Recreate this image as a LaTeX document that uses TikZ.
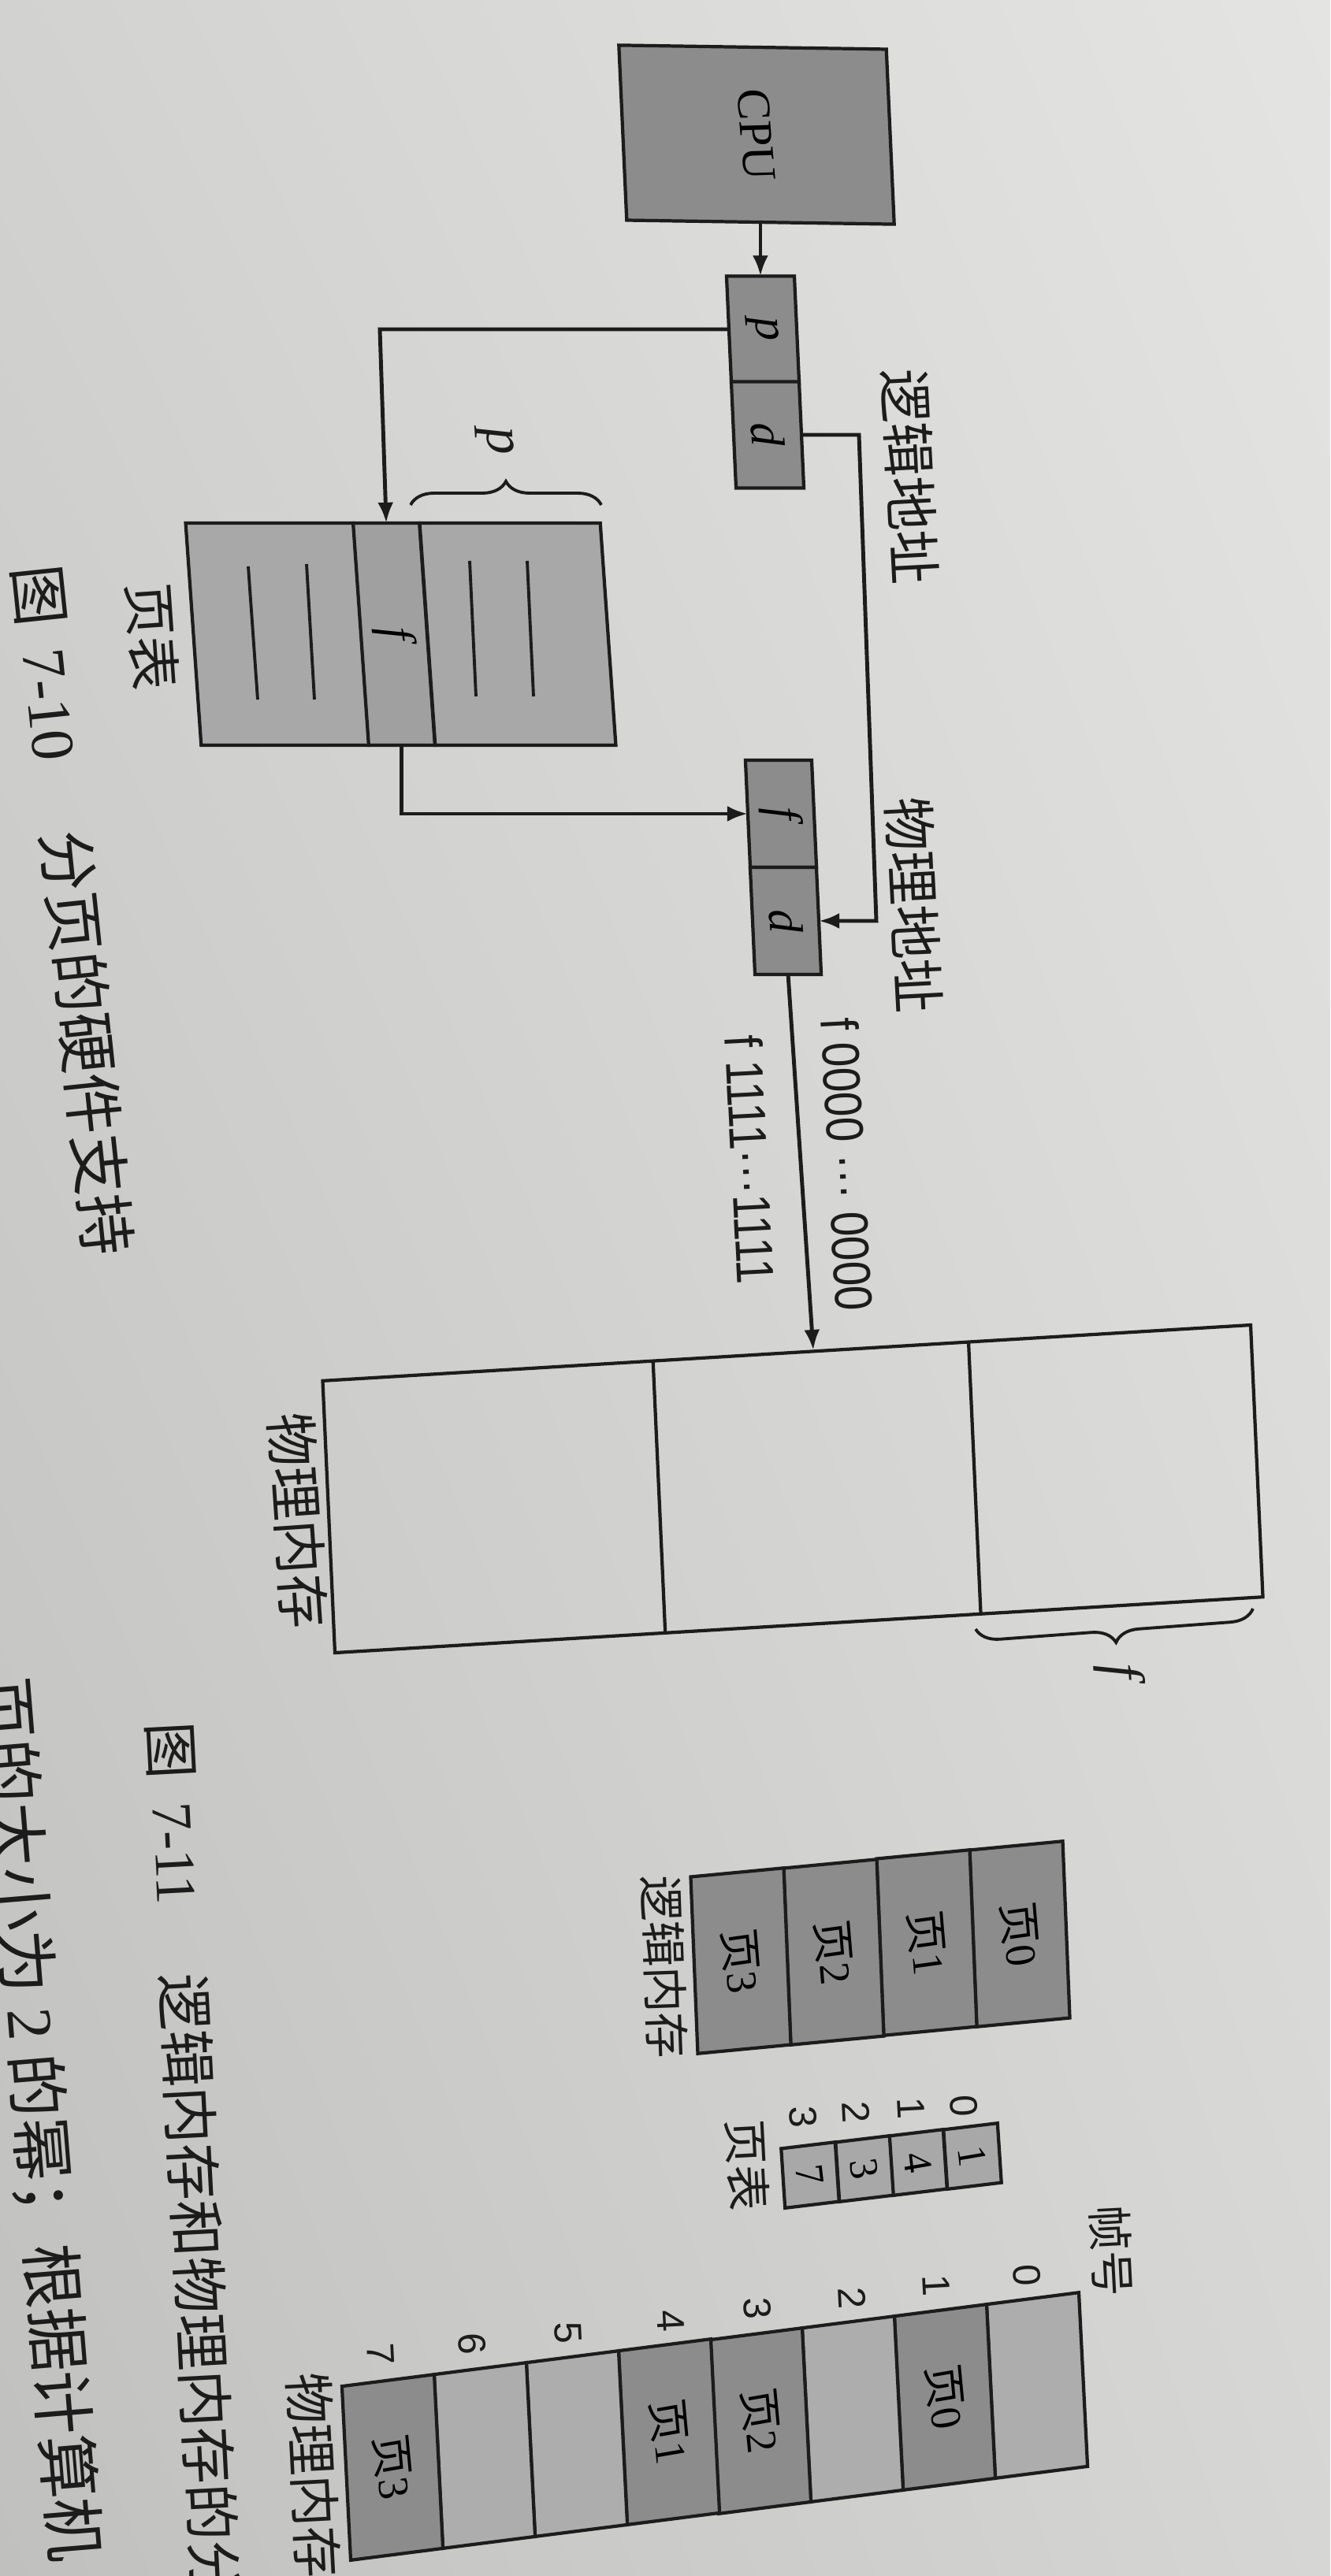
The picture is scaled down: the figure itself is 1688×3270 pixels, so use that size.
\documentclass[tikz,border=0pt]{standalone}
\usepackage{fontspec}
\usepackage{graphicx}
\setmainfont{Liberation Serif}
\newfontfamily\cjk{Noto Sans CJK SC}
\newfontfamily\sansnum{Liberation Sans}
\usetikzlibrary{calc,arrows.meta,decorations.pathreplacing,shadings}
\definecolor{ink}{HTML}{1C1C1C}
\definecolor{darkfill}{HTML}{8C8C8C}
\definecolor{midfill}{HTML}{A8A8A8}
\definecolor{fcolfill}{HTML}{A0A0A0}
\definecolor{lightfill}{HTML}{ADADAD}
\definecolor{paperTL}{HTML}{D2D2D0}
\definecolor{paperTR}{HTML}{E4E4E2}
\definecolor{paperBL}{HTML}{C0C0BE}
\definecolor{paperBR}{HTML}{D6D6D4}
\tikzset{
 box/.style={draw=ink, line width=1.2pt, inner sep=0pt, outer sep=0pt},
 conn/.style={draw=ink, line width=1.4pt, -{Latex[length=0.26cm,width=0.2cm]}},
 boxline/.style={draw=ink, line width=1.2pt},
 thinline/.style={draw=ink, line width=1.1pt},
 lab/.style={inner sep=0pt, outer sep=0pt, text=ink},
 bigzh/.style={lab, font=\cjk\fontsize{19.5}{20}\selectfont},
 smallzh/.style={lab, font=\cjk\fontsize{16.5}{17}\selectfont},
 numlab/.style={lab, font=\sansnum\fontsize{14}{14}\selectfont},
 bracestyle/.style={draw=ink, line width=1.1pt, decorate, decoration={brace, amplitude=0.3cm}},
 addrcell/.style={box, fill=darkfill, minimum width=0.86cm, minimum height=1.35cm, xslant=-0.045},
 ptcol/.style={box, minimum height=2.82cm, xslant=-0.07},
 lmcell/.style={box, fill=darkfill, minimum width=1.18cm, minimum height=2.25cm, yslant=0.095, xslant=-0.04},
 sptcell/.style={box, fill=midfill, minimum width=0.685cm, minimum height=0.76cm, yslant=0.12, xslant=-0.065},
 fmcell/.style={box, minimum width=1.17cm, minimum height=2.22cm, yslant=0.128, xslant=-0.05},
}
\newcommand\cellpg[1]{\rotatebox{-87.5}{\fontsize{15.5}{16}\selectfont{\cjk 页}#1}}
\newcommand\celldig[1]{\rotatebox{-87}{\fontsize{14.5}{15}\selectfont #1}}
\newcommand\itl[2]{\rotatebox{#1}{\fontsize{17}{17}\selectfont\itshape #2}}
\begin{document}
\begin{tikzpicture}[x=0.01cm, y=-0.01cm]
\useasboundingbox (0,0) rectangle (1688,3270);
\clip (0,0) rectangle (1688,3270);
\shade[upper left=paperTL, upper right=paperTR, lower left=paperBL, lower right=paperBR] (0,0) rectangle (1688,3270);

% ---------- Figure 7-10 ----------
\node[box, fill=darkfill, minimum width=3.39cm, minimum height=2.22cm, xslant=-0.045, yslant=-0.015] (cpu) at (960,171)
  {\rotatebox{-87.5}{\fontsize{17}{17}\selectfont CPU}};
\node[addrcell] (lp) at (968,418) {\itl{-87.5}{p}};
\node[addrcell] (ld) at (974,552) {\itl{-87.5}{d}};
\draw[conn] (lp.north |- cpu.south) -- (lp.north);
\node[bigzh, rotate=-87] (lla) at (1155,605) {逻辑地址};

\node[ptcol, fill=midfill, minimum width=2.13cm] (ptl) at (352,805) {};
\node[ptcol, fill=fcolfill, minimum width=0.84cm] (ptf) at (500,805) {\itl{-86}{f}};
\node[ptcol, fill=midfill, minimum width=2.29cm] (ptr) at (657,805) {};
\draw[thinline] (315,719) -- (327,888);
\draw[thinline] (389,716) -- (399,888);
\draw[thinline] (596,712) -- (604,884);
\draw[thinline] (669,712) -- (677,884);
\node[bigzh, rotate=-86] (ptlab) at (193,808) {页表};

\coordinate (c1) at (482,418);
\draw[conn] (lp.west) -- (c1) -- (ptf.north);
\coordinate (bp1) at (521,641);
\coordinate (bp2) at (763,641);
\draw[bracestyle] (bp1) -- (bp2);
\node[lab, rotate=-86] (plab) at (628,560) {\fontsize{20}{20}\selectfont\itshape p};

\node[addrcell, minimum width=0.84cm, minimum height=1.36cm] (paf) at (991,1033) {\itl{-87}{f}};
\node[addrcell, minimum width=0.84cm, minimum height=1.36cm] (pad) at (997,1169) {\itl{-87}{d}};
\draw[conn] (ptf.south) |- (paf.west);
\coordinate (c4) at (1090,552);
\coordinate (c5) at (1112,1169);
\draw[conn] (ld.east) -- (c4) -- (c5) -- (pad.east);
\node[bigzh, rotate=-87] (pal) at (1160,1149) {物理地址};

\coordinate (c6) at (1032,1714);
\draw[conn] (pad.south) -- (c6);
\node[lab, rotate=-87] (r0) at (1075,1478) {\sansnum\fontsize{19}{19}\selectfont\scalebox{0.85}[1]{f 0000 ··· 0000}};
\node[lab, rotate=-87] (r1) at (952,1472) {\sansnum\fontsize{19}{19}\selectfont\scalebox{0.85}[1]{f 1111···1111}};

\node[box, minimum width=11.8cm, minimum height=3.45cm, xslant=-0.045, yslant=0.06] (pm) at (1006,1890) {};
\draw[boxline] ($(pm.north west)!0.356!(pm.north east)$) -- ($(pm.south west)!0.356!(pm.south east)$);
\draw[boxline] ($(pm.north west)!0.696!(pm.north east)$) -- ($(pm.south west)!0.696!(pm.south east)$);
\coordinate (bf1) at (1590,2042);
\coordinate (bf2) at (1238,2068);
\draw[bracestyle] (bf1) -- (bf2);
\node[lab, rotate=-86] (flab) at (1420,2122) {\fontsize{20}{20}\selectfont\itshape f};
\node[bigzh, rotate=-86] (pml) at (378,1930) {物理内存};

% captions and body text
\node[lab, anchor=west, rotate=-84, font=\fontsize{22}{22}\selectfont] (cap1) at (47,717)
  {{\cjk 图}\hspace{3mm}7-10\hspace{9mm}{\cjk 分页的硬件支持}};
\node[lab, anchor=west, rotate=-87, font=\fontsize{20.5}{21}\selectfont] (cap2) at (216,2186)
  {{\cjk 图}\hspace{3mm}7-11\hspace{8.8mm}{\cjk 逻辑内存和物理内存的分}};
\node[lab, anchor=west, rotate=-85.3, font=\cjk\fontsize{23}{23}\selectfont] (body) at (2,2128)
  {页的大小为 {\rmfamily 2} 的幂；根据计算机};

% ---------- Figure 7-11 ----------
\node[lmcell] (lm0) at (1294,2455) {\cellpg{0}};
\node[lmcell] (lm1) at (1176,2466) {\cellpg{1}};
\node[lmcell] (lm2) at (1058,2478) {\cellpg{2}};
\node[lmcell] (lm3) at (940,2489) {\cellpg{3}};
\node[smallzh, rotate=-88] (lml) at (843,2497) {逻辑内存};

\node[sptcell] (s0) at (1234,2737) {\celldig{1}};
\node[sptcell] (s1) at (1165,2745) {\celldig{4}};
\node[sptcell] (s2) at (1097,2753) {\celldig{3}};
\node[sptcell] (s3) at (1028,2761) {\celldig{7}};
\node[numlab, rotate=-87] (i0) at (1223,2673) {0};
\node[numlab, rotate=-87] (i1) at (1156,2676) {1};
\node[numlab, rotate=-87] (i2) at (1086,2681) {2};
\node[numlab, rotate=-87] (i3) at (1019,2687) {3};
\node[smallzh, rotate=-87] (sptl) at (948,2748) {页表};

\node[smallzh, rotate=-87] (zhl) at (1410,2857) {帧号};
\node[numlab, rotate=-87] (n0) at (1303,2888) {0};
\node[numlab, rotate=-87] (n1) at (1188,2901) {1};
\node[numlab, rotate=-87] (n2) at (1081,2917) {2};
\node[numlab, rotate=-87] (n3) at (961,2930) {3};
\node[numlab, rotate=-87] (n4) at (851,2946) {4};
\node[numlab, rotate=-87] (n5) at (721,2961) {5};
\node[numlab, rotate=-87] (n6) at (599,2975) {6};
\node[numlab, rotate=-87] (n7) at (483,2988) {7};

\node[fmcell, fill=lightfill] (f0) at (1316,3028) {};
\node[fmcell, fill=darkfill] (f1) at (1199,3043) {\cellpg{0}};
\node[fmcell, fill=lightfill] (f2) at (1082,3058) {};
\node[fmcell, fill=darkfill] (f3) at (965,3073) {\cellpg{2}};
\node[fmcell, fill=darkfill] (f4) at (849,3087) {\cellpg{1}};
\node[fmcell, fill=lightfill] (f5) at (732,3102) {};
\node[fmcell, fill=lightfill] (f6) at (615,3117) {};
\node[fmcell, fill=darkfill] (f7) at (498,3132) {\cellpg{3}};
\node[lab, anchor=west, rotate=-87, font=\cjk\fontsize{18.5}{19}\selectfont] (fml) at (391,3012) {物理内存};
\end{tikzpicture}
\end{document}
